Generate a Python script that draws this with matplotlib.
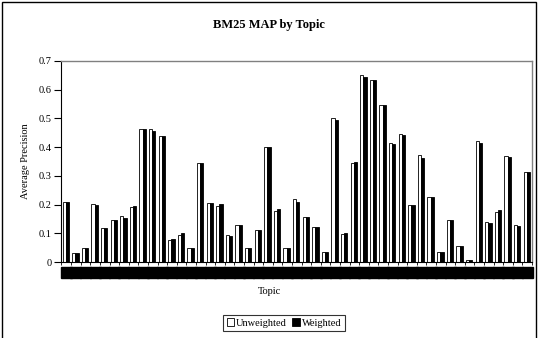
import numpy as np
import matplotlib
matplotlib.use("Agg")
import matplotlib.pyplot as plt
from matplotlib.patches import Patch, Rectangle

# Datos (49 topicos)
topics = ['%02d' % (i + 1) for i in range(49)]
unweighted = [0.21, 0.032, 0.048, 0.203, 0.12, 0.145, 0.16, 0.19, 0.462, 0.463,
              0.438, 0.075, 0.093, 0.048, 0.344, 0.207, 0.196, 0.094, 0.129, 0.048,
              0.11, 0.402, 0.179, 0.048, 0.218, 0.156, 0.122, 0.034, 0.502, 0.096,
              0.345, 0.65, 0.635, 0.547, 0.414, 0.445, 0.197, 0.373, 0.228, 0.034,
              0.148, 0.056, 0.006, 0.42, 0.14, 0.175, 0.368, 0.129, 0.314]
weighted = [0.21, 0.032, 0.048, 0.2, 0.12, 0.145, 0.154, 0.194, 0.462, 0.456,
            0.438, 0.079, 0.1, 0.048, 0.344, 0.205, 0.202, 0.091, 0.129, 0.048,
            0.113, 0.402, 0.184, 0.048, 0.21, 0.156, 0.122, 0.034, 0.495, 0.1,
            0.347, 0.646, 0.633, 0.547, 0.41, 0.442, 0.197, 0.363, 0.228, 0.034,
            0.148, 0.056, 0.006, 0.415, 0.136, 0.18, 0.364, 0.125, 0.314]

W, H = 538, 338
fig = plt.figure(figsize=(W / 100, H / 100), dpi=100)
plt.rcParams['font.family'] = ['Liberation Serif', 'DejaVu Serif']

# Marco exterior del grafico
fig.patches.append(Rectangle((2 / W, -0.1), 534 / W, 1.1 - 2 / H, transform=fig.transFigure,
                             fill=False, edgecolor='black', linewidth=1.0))

left, right, top, bottom = 61.5, 532, 61, 262
ax = fig.add_axes([left / W, 1 - bottom / H, (right - left) / W, (bottom - top) / H])

x = np.arange(len(topics))
bw = 1 / 3
ax.bar(x - bw / 2 - 0.05, unweighted, bw, color='white', edgecolor='black', linewidth=0.6)
ax.bar(x + bw / 2 - 0.05, weighted, bw, color='black', edgecolor='black', linewidth=0.6)

ax.set_xlim(-0.5, len(topics) - 0.5)
ax.set_ylim(0, 0.7)
ax.set_yticks(np.arange(0, 0.71, 0.1))
ax.set_yticklabels(['0', '0.1', '0.2', '0.3', '0.4', '0.5', '0.6', '0.7'], fontsize=7.5)
ax.tick_params(axis='y', direction='out', length=5, width=0.8, pad=2)

# Etiquetas del eje x: bloques negros como en el original
ax.set_xticks(x)
ax.set_xticklabels(topics, fontsize=5.5)
ax.set_xticks(np.arange(-0.5, len(topics), 1), minor=True)
ax.tick_params(axis='x', which='major', length=0, pad=4.5)
ax.tick_params(axis='x', which='minor', direction='out', length=2.5, width=0.6)
for lab in ax.get_xticklabels():
    lab.set_bbox(dict(facecolor='black', edgecolor='black', pad=1.2))

for s in ['top', 'right']:
    ax.spines[s].set_color('#808080')
    ax.spines[s].set_linewidth(1.0)
for s in ['left', 'bottom']:
    ax.spines[s].set_color('black')
    ax.spines[s].set_linewidth(0.8)

ax.set_ylabel('Average Precision', fontsize=7.5, labelpad=6)
fig.text(269 / W, 1 - 292 / H, 'Topic', fontsize=7.5, ha='center', va='center')
fig.text(269 / W, 1 - 25 / H, 'BM25 MAP by Topic', fontsize=9, fontweight='bold',
         ha='center', va='center')

handles = [Patch(facecolor='white', edgecolor='black', linewidth=0.6, label='Unweighted'),
           Patch(facecolor='black', edgecolor='black', linewidth=0.6, label='Weighted')]
leg = fig.legend(handles=handles, loc='center', bbox_to_anchor=(284 / W, 1 - 323 / H),
                 ncol=2, fontsize=7.5, frameon=True, fancybox=False, handlelength=0.7,
                 handleheight=0.7, handletextpad=0.2, columnspacing=0.5,
                 borderpad=0.35, borderaxespad=0)
leg.get_frame().set_edgecolor('black')
leg.get_frame().set_linewidth(0.8)

fig.savefig('out.png', dpi=100)
